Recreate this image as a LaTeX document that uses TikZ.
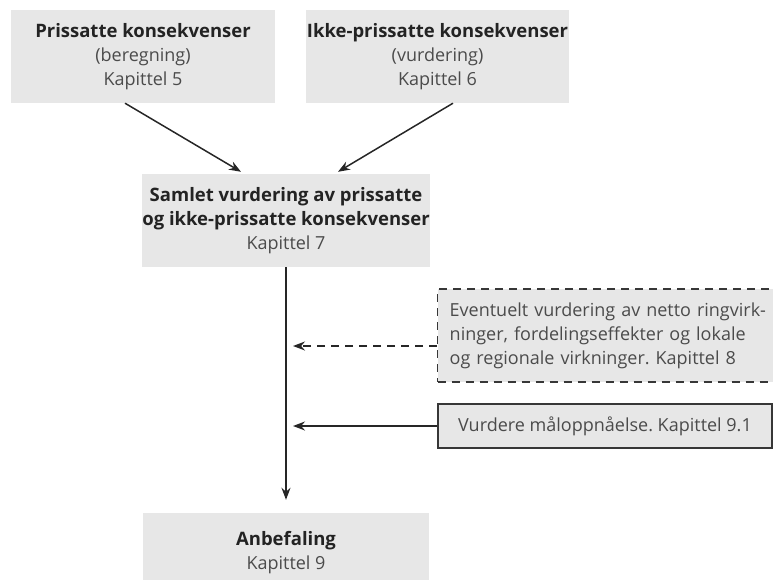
\documentclass[tikz,border=0pt]{standalone}
\usepackage{fontspec}
\setmainfont{Open Sans}
\usetikzlibrary{arrows.meta}
\definecolor{boxgrey}{RGB}{231,231,231}
\definecolor{darktext}{RGB}{35,35,35}
\definecolor{softtext}{RGB}{75,75,75}
\definecolor{edgegrey}{RGB}{55,55,55}
\newcommand{\hd}[1]{{\bfseries\color{darktext}\fontsize{18.5}{24}\selectfont#1}}
\frenchspacing

\begin{document}
\begin{tikzpicture}[x=1pt,y=1pt,
    greybox/.style={fill=boxgrey, align=center, text=softtext, inner sep=0pt,
        font=\fontsize{18}{24}\selectfont},
    sidebox/.style={fill=boxgrey, draw=edgegrey, line width=1.4pt, text=softtext,
        font=\fontsize{18}{24}\selectfont},
    flow/.style={line width=1.5pt, draw=black!85, -{Stealth[length=12pt,width=9pt]}}]
\useasboundingbox (0,0) rectangle (773,-580);

\node[greybox, minimum width=264, minimum height=93] (pris) at (143,-56.5)
    {\hd{Prissatte konsekvenser}\\(beregning)\\Kapittel 5};
\node[greybox, minimum width=263, minimum height=93] (ikke) at (437.5,-56.5)
    {\hd{Ikke-prissatte konsekvenser}\\(vurdering)\\Kapittel 6};
\node[greybox, minimum width=286, minimum height=93] (samlet) at (286,-220.5)
    {\hd{Samlet vurdering av prissatte}\\\hd{og ikke-prissatte konsekvenser}\\Kapittel 7};
\node[greybox, minimum width=286, minimum height=80] (anbef) at (286,-553)
    {\hd{Anbefaling}\\Kapittel 9};

\node[sidebox, dashed, dash pattern=on 8pt off 6pt, align=left, text width=340,
    inner xsep=12, minimum height=93, anchor=west] (ringv) at (437,-335.5)
    {Eventuelt vurdering av netto ringvirk-\\ninger, fordelingseffekter og lokale\\og regionale virkninger. Kapittel 8};
\node[sidebox, align=center, minimum width=334, minimum height=44] (maal) at (605,-426)
    {Vurdere måloppnåelse. Kapittel 9.1};

% arrows
\draw[flow] ([xshift=-18]pris.south) -- ([xshift=-45,yshift=2]samlet.north);
\draw[flow] ([xshift=15.5]ikke.south) -- ([xshift=52,yshift=2]samlet.north);
\draw[flow, shorten >=13pt] (samlet.south) -- (anbef.north);
\draw[flow, dashed, dash pattern=on 8pt off 6pt, shorten >=7pt]
    ([yshift=-10.5]ringv.west) -- ([yshift=-10.5]ringv.west -| samlet.south);
\draw[flow, shorten >=7pt] (maal.west) -- (maal.west -| samlet.south);
\end{tikzpicture}
\end{document}
